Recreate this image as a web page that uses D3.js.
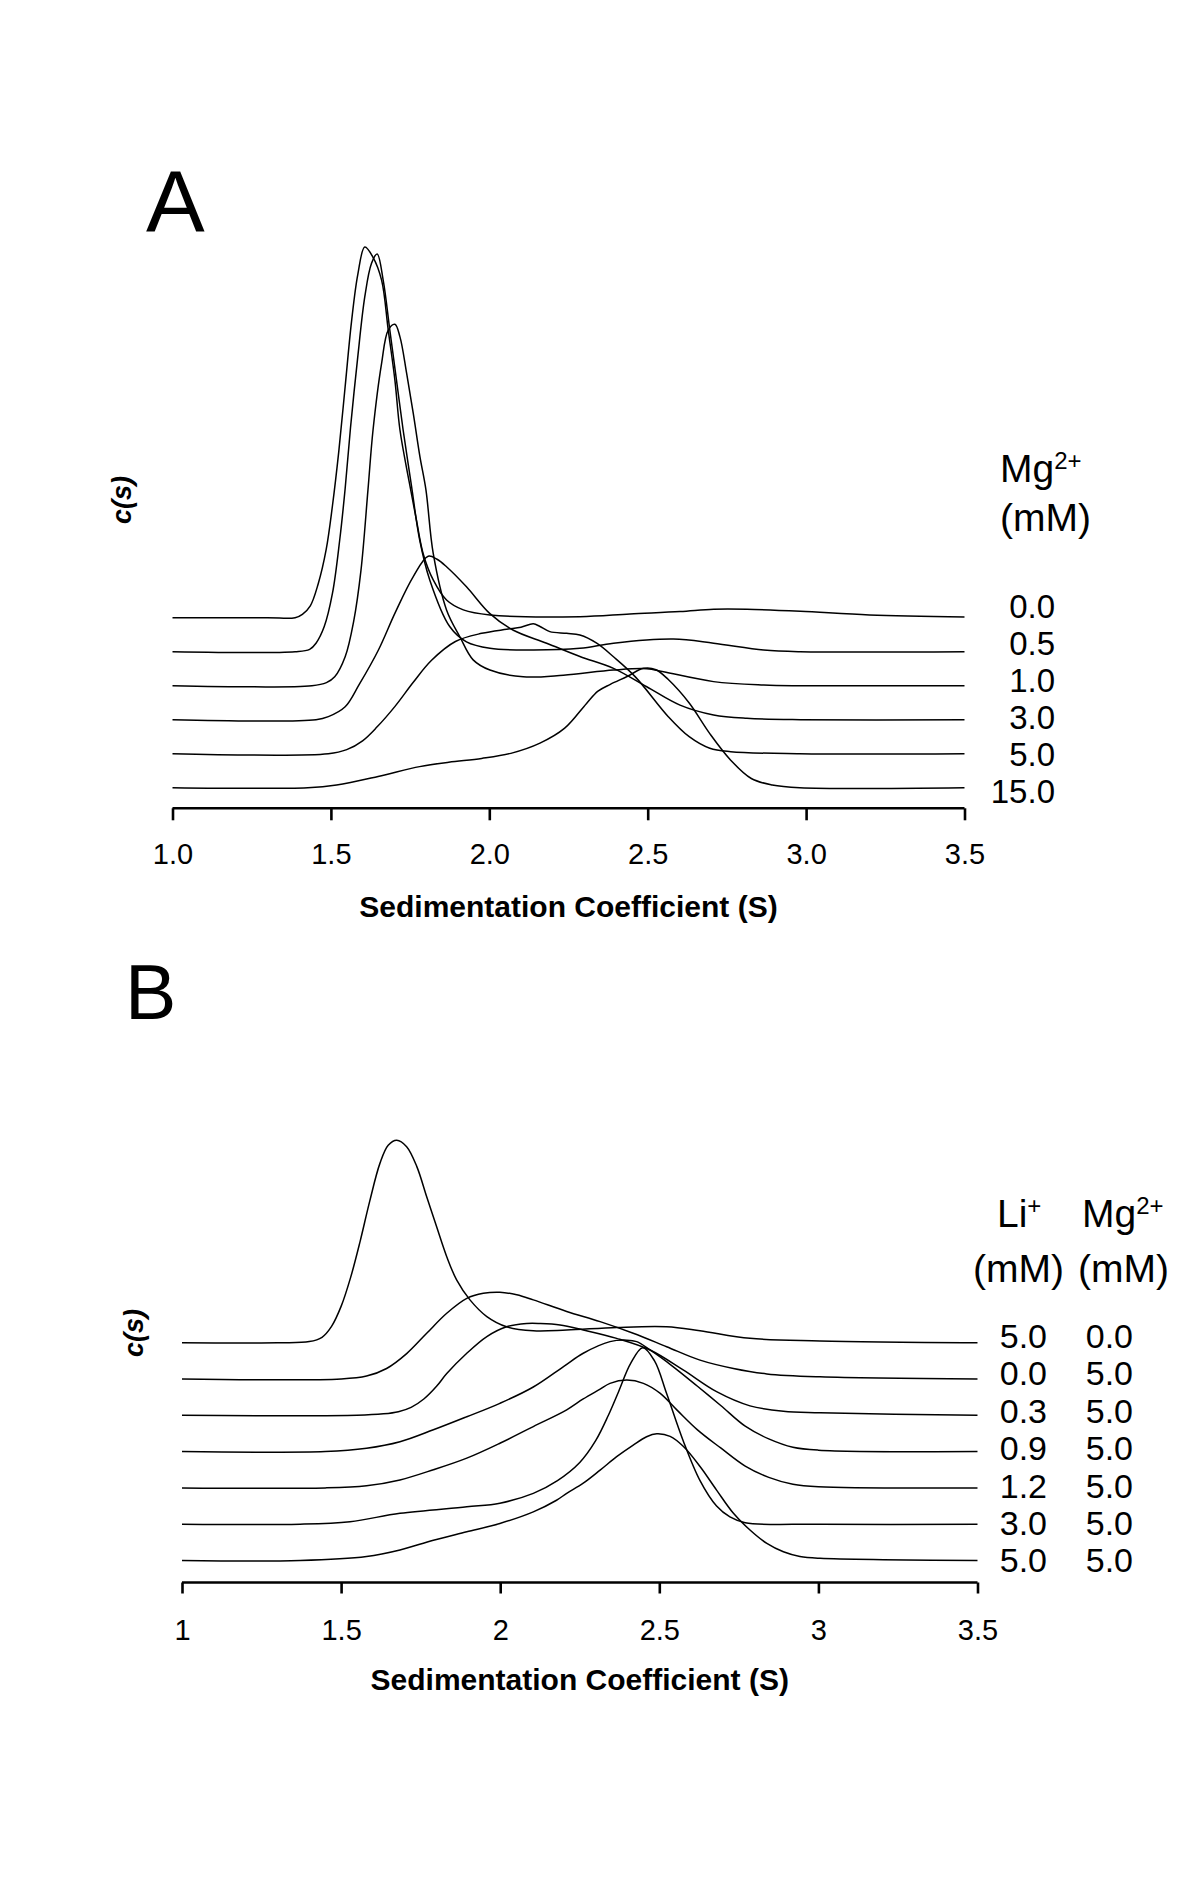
<!DOCTYPE html>
<html>
<head>
<meta charset="utf-8">
<script src="https://cdn.jsdelivr.net/npm/d3@7"></script>
<style>
  body { margin: 0; background: #fff; }
  svg { display: block; font-family: "Liberation Sans", Arial, sans-serif; }
  .curve { fill: none; stroke: #000; stroke-width: 1.5; }
  .axisline { stroke: #000; stroke-width: 2.6; fill: none; }
</style>
</head>
<body>
<div id="chartdiv"></div>
<script>
// ---- panel A : c(s) vs s, Mg2+ series (s, height above own baseline) ----
var mgLabelsA = ["0.0", "0.5", "1.0", "3.0", "5.0", "15.0"];
var ticksA = [1.0, 1.5, 2.0, 2.5, 3.0, 3.5];

var mg00 = [[1.0,0],[1.30,0],[1.387,0],[1.41,0.1],[1.435,0.35],[1.46,1.0],[1.485,2.0],[1.505,3.3],[1.525,4.9],[1.545,6.8],[1.565,8.7],[1.585,10.1],[1.607,10.9],[1.633,10.6],[1.660,9.93],[1.681,8.46],[1.702,6.99],[1.718,5.52],[1.747,4.0],[1.770,2.87],[1.791,1.89],[1.823,1.11],[1.865,0.52],[1.918,0.23],[2.002,0.08],[2.286,0.03],[2.444,0.11],[2.602,0.18],[2.708,0.25],[2.813,0.25],[2.982,0.19],[3.2,0.08],[3.5,0.02]];
var mg05 = [[1.0,0],[1.387,0],[1.433,0.07],[1.453,0.25],[1.479,0.74],[1.505,1.72],[1.528,3.3],[1.545,4.8],[1.562,6.6],[1.584,8.6],[1.607,10.44],[1.628,11.42],[1.646,11.7],[1.665,10.93],[1.686,9.46],[1.707,7.99],[1.728,6.52],[1.754,4.9],[1.780,3.3],[1.812,2.11],[1.875,0.74],[1.928,0.29],[2.002,0.10],[2.128,0.05],[2.286,0.10],[2.392,0.25],[2.581,0.37],[2.708,0.25],[2.866,0.05],[2.982,0],[3.5,0]];
var mg10 = [[1.0,0],[1.440,0],[1.486,0.09],[1.512,0.26],[1.545,0.85],[1.572,1.9],[1.595,3.4],[1.617,5.76],[1.633,7.52],[1.660,9.48],[1.681,10.46],[1.702,10.63],[1.718,10.26],[1.739,9.19],[1.760,8.01],[1.781,6.74],[1.800,5.76],[1.823,3.89],[1.865,2.23],[1.907,1.44],[1.949,0.76],[2.002,0.46],[2.107,0.26],[2.234,0.31],[2.392,0.46],[2.497,0.50],[2.55,0.41],[2.708,0.12],[2.866,0.02],[2.982,0],[3.5,0]];
var mg30 = [[1.0,0],[1.453,0],[1.492,0.09],[1.545,0.38],[1.589,1.03],[1.65,2.05],[1.703,3.15],[1.76,4.21],[1.807,4.81],[1.835,4.72],[1.865,4.5],[1.928,3.91],[2.002,3.12],[2.076,2.63],[2.181,2.25],[2.286,1.86],[2.392,1.51],[2.497,0.97],[2.602,0.43],[2.708,0.14],[2.813,0.04],[2.982,0],[3.5,0]];
var mg50 = [[1.0,0],[1.492,0],[1.55,0.12],[1.60,0.38],[1.646,0.79],[1.703,1.4],[1.76,2.1],[1.817,2.74],[1.893,3.3],[1.976,3.54],[2.055,3.66],[2.10,3.72],[2.139,3.82],[2.160,3.74],[2.191,3.59],[2.244,3.54],[2.286,3.49],[2.339,3.25],[2.392,2.85],[2.461,2.26],[2.565,1.09],[2.631,0.50],[2.696,0.16],[2.762,0.06],[2.98,0],[3.5,0]];
var mg150 = [[1.0,0],[1.427,0],[1.518,0.08],[1.649,0.33],[1.780,0.62],[1.872,0.75],[1.976,0.86],[2.068,1.01],[2.160,1.31],[2.238,1.75],[2.307,2.48],[2.343,2.84],[2.382,3.04],[2.435,3.27],[2.487,3.51],[2.526,3.47],[2.565,3.18],[2.631,2.49],[2.696,1.59],[2.762,0.81],[2.827,0.27],[2.893,0.08],[2.98,0],[3.5,0]];

// ---- panel B : Li+ / Mg2+ series ----
var liLabelsB = ["5.0", "0.0", "0.3", "0.9", "1.2", "3.0", "5.0"];
var mgLabelsB = ["0.0", "5.0", "5.0", "5.0", "5.0", "5.0", "5.0"];
var ticksB = [1, 1.5, 2, 2.5, 3, 3.5];

var li50mg0 = [[1.0,0],[1.30,0],[1.40,0.03],[1.44,0.15],[1.47,0.45],[1.50,1.0],[1.53,1.8],[1.56,2.8],[1.59,3.9],[1.622,4.94],[1.648,5.44],[1.675,5.58],[1.706,5.40],[1.738,4.85],[1.769,4.02],[1.800,3.20],[1.832,2.37],[1.863,1.73],[1.905,1.18],[1.958,0.72],[2.020,0.44],[2.104,0.33],[2.209,0.35],[2.366,0.42],[2.523,0.44],[2.628,0.33],[2.785,0.12],[3.005,0.05],[3.5,0]];
var li00 = [[1.0,0],[1.50,0],[1.580,0.08],[1.643,0.29],[1.706,0.70],[1.769,1.26],[1.832,1.81],[1.895,2.22],[1.947,2.36],[1.999,2.39],[2.052,2.32],[2.104,2.18],[2.209,1.86],[2.314,1.58],[2.418,1.26],[2.523,0.89],[2.628,0.52],[2.733,0.29],[2.838,0.14],[3.005,0.06],[3.5,0]];
var li03 = [[1.0,0],[1.55,0],[1.633,0.04],[1.68,0.1],[1.72,0.22],[1.76,0.45],[1.80,0.8],[1.832,1.15],[1.895,1.71],[1.958,2.17],[2.020,2.44],[2.083,2.53],[2.125,2.53],[2.188,2.49],[2.261,2.35],[2.366,2.12],[2.471,1.80],[2.575,1.25],[2.680,0.65],[2.785,0.26],[2.890,0.11],[3.005,0.07],[3.5,0]];
var li09 = [[1.0,0],[1.45,0],[1.580,0.09],[1.685,0.27],[1.790,0.60],[1.895,0.96],[1.999,1.33],[2.104,1.78],[2.20,2.35],[2.261,2.71],[2.345,3.03],[2.398,3.07],[2.429,3.03],[2.471,2.80],[2.542,2.35],[2.62,1.8],[2.693,1.27],[2.77,0.7],[2.844,0.35],[2.92,0.12],[3.0,0.04],[3.5,0]];
var li12 = [[1.0,0],[1.45,0],[1.580,0.06],[1.685,0.22],[1.790,0.50],[1.895,0.82],[1.999,1.23],[2.104,1.69],[2.209,2.15],[2.261,2.45],[2.314,2.72],[2.345,2.88],[2.398,2.97],[2.450,2.88],[2.502,2.61],[2.555,2.15],[2.62,1.6],[2.693,1.1],[2.77,0.6],[2.844,0.29],[2.92,0.1],[3.0,0.03],[3.5,0]];
var li30 = [[1.0,0],[1.371,0],[1.528,0.07],[1.685,0.30],[1.895,0.48],[1.999,0.58],[2.104,0.85],[2.18,1.2],[2.25,1.7],[2.30,2.3],[2.34,3.0],[2.372,3.65],[2.41,4.43],[2.448,4.86],[2.485,4.5],[2.523,3.6],[2.575,2.3],[2.628,1.2],[2.68,0.5],[2.722,0.2],[2.77,0.04],[3.005,0],[3.5,0]];
var li50 = [[1.0,0],[1.371,0],[1.580,0.11],[1.685,0.29],[1.790,0.56],[1.895,0.79],[1.999,1.02],[2.104,1.34],[2.177,1.66],[2.209,1.85],[2.261,2.13],[2.314,2.49],[2.366,2.86],[2.418,3.18],[2.460,3.41],[2.492,3.49],[2.534,3.42],[2.576,3.14],[2.628,2.59],[2.680,1.94],[2.733,1.30],[2.785,0.84],[2.838,0.47],[2.890,0.24],[2.942,0.11],[3.005,0.06],[3.5,0]];

var seriesA = [mg00, mg05, mg10, mg30, mg50, mg150];
var seriesB = [li50mg0, li00, li03, li09, li12, li30, li50];

var svg = d3.select("#chartdiv").append("svg")
    .attr("width", 1200)
    .attr("height", 1883);

function drawPanel(p) {
    var xScale = d3.scaleLinear().domain([1, 3.5]).range(p.xRange);
    // one unit = spacing between stacked baselines
    var yScale = d3.scaleLinear().domain([0, 1]).range(p.yRange);
    var n = p.series.length;

    var line = d3.line()
        .x(function(d) { return xScale(d[0]); })
        .y(function(d) { return yScale(d[1] + d.off); })
        .curve(d3.curveCatmullRom.alpha(0.5));

    var g = svg.append("g");

    g.selectAll("path.curve")
        .data(p.series)
        .enter()
        .append("path")
        .attr("class", "curve")
        .attr("d", function(s, i) {
            var off = n - 1 - i;
            var pts = s.map(function(d) { var q = [d[0], d[1]]; q.off = off; return q; });
            return line(pts);
        });

    // x axis
    var xAxis = d3.axisBottom(xScale)
        .tickValues(p.ticks)
        .tickSize(p.tickLen)
        .tickPadding(p.tickPad)
        .tickFormat(p.fmt);

    var ax = g.append("g")
        .attr("transform", "translate(0," + p.axisY + ")")
        .call(xAxis);
    ax.select(".domain").attr("class", "axisline").attr("d", "M" + p.xRange[0] + ",0H" + p.xRange[1]);
    ax.selectAll(".tick line").attr("stroke", "#000").attr("stroke-width", 2.6);
    ax.selectAll(".tick text")
        .attr("fill", "#000")
        .style("font-size", "29px")
        .style("font-family", "'Liberation Sans', Arial, sans-serif");

    g.append("text")
        .attr("x", xScale(2.25))
        .attr("y", p.titleY)
        .attr("text-anchor", "middle")
        .style("font-size", "30px")
        .style("font-weight", "bold")
        .text("Sedimentation Coefficient (S)");

    g.append("text")
        .attr("transform", "translate(" + p.ylab[0] + "," + p.ylab[1] + ") rotate(-90)")
        .attr("text-anchor", "middle")
        .style("font-size", "27px")
        .style("font-weight", "bold")
        .style("font-style", "italic")
        .text("c(s)");

    g.append("text")
        .attr("x", p.letter[0])
        .attr("y", p.letter[1])
        .style("font-size", p.letter[2] + "px")
        .text(p.name);

    return g;
}

function header(g, x, y, main, sup) {
    var t = g.append("text")
        .attr("x", x)
        .attr("y", y)
        .style("font-size", "39px");
    t.append("tspan").text(main);
    if (sup) {
        t.append("tspan")
            .attr("dy", -13)
            .style("font-size", "24px")
            .text(sup);
    }
}

// ---------- Panel A ----------
var gA = drawPanel({
    name: "A",
    series: seriesA,
    xRange: [172.5, 964.5],
    yRange: [787.7, 753.7],
    axisY: 808.3,
    ticks: ticksA,
    tickLen: 12,
    tickPad: 23.5,
    fmt: d3.format(".1f"),
    titleY: 917,
    ylab: [131, 500],
    letter: [146, 232, 88]
});

gA.selectAll("text.lab")
    .data(mgLabelsA)
    .enter()
    .append("text")
    .attr("class", "lab")
    .attr("x", 1055)
    .attr("y", function(d, i) { return 618 + i * 37; })
    .attr("text-anchor", "end")
    .style("font-size", "33px")
    .text(function(d) { return d; });

header(gA, 1000, 482, "Mg", "2+");
header(gA, 1000, 531, "(mM)");

// ---------- Panel B ----------
var gB = drawPanel({
    name: "B",
    series: seriesB,
    xRange: [182, 977.5],
    yRange: [1560.5, 1524.2],
    axisY: 1582.5,
    ticks: ticksB,
    tickLen: 11,
    tickPad: 26.3,
    fmt: function(d) { return String(d); },
    titleY: 1690,
    ylab: [143, 1333],
    letter: [125, 1019, 77]
});

gB.selectAll("text.li")
    .data(liLabelsB)
    .enter()
    .append("text")
    .attr("class", "li")
    .attr("x", 1047)
    .attr("y", function(d, i) { return 1348 + i * 37.4; })
    .attr("text-anchor", "end")
    .style("font-size", "34px")
    .text(function(d) { return d; });

gB.selectAll("text.mg")
    .data(mgLabelsB)
    .enter()
    .append("text")
    .attr("class", "mg")
    .attr("x", 1133)
    .attr("y", function(d, i) { return 1348 + i * 37.4; })
    .attr("text-anchor", "end")
    .style("font-size", "34px")
    .text(function(d) { return d; });

header(gB, 997, 1227, "Li", "+");
header(gB, 1082, 1227, "Mg", "2+");
header(gB, 973, 1282, "(mM)");
header(gB, 1078, 1282, "(mM)");
</script>
</body>
</html>
